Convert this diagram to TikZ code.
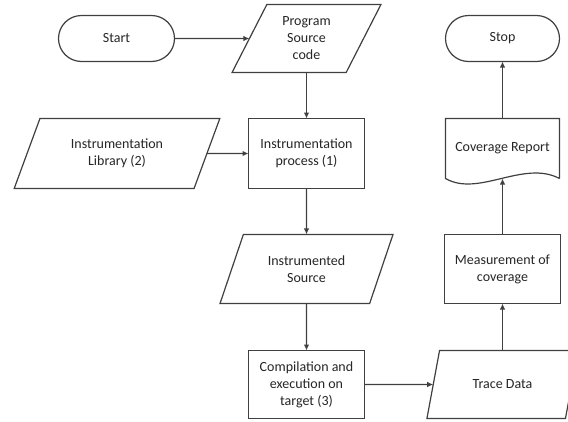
\documentclass[tikz,border=0pt]{standalone}
\usepackage{fontspec}
\setmainfont{Carlito}
\usetikzlibrary{shapes.geometric,arrows.meta}
\begin{document}
\begin{tikzpicture}[x=1pt,y=-1pt,
    line width=1.2pt,
    every node/.style={font=\fontsize{14}{17}\selectfont, text=black!85, align=center, inner sep=2pt, outer sep=0pt},
    termbox/.style={draw=black!75, rounded corners=23pt, minimum width=116pt, minimum height=46pt},
    iobox/.style={draw=black!75, trapezium, trapezium left angle=64, trapezium right angle=116, trapezium stretches=true, minimum height=68pt},
    procbox/.style={draw=black!75, rectangle, minimum width=116pt, minimum height=70pt},
    flow/.style={draw=black!75, -{Latex[length=6pt,width=5.5pt]}}]
    \useasboundingbox [fill=white] (0,0) rectangle (568,421);

    \node [termbox] (start) at (116.5,38.5) {Start};
    \node [iobox, minimum width=150pt] (src) at (306.5,38.5) {Program\\Source\\code};
    \node [iobox, minimum width=206pt, minimum height=70pt] (lib) at (117,153.5) {Instrumentation\\Library (2)};
    \node [procbox] (proc) at (306.5,153.5) {Instrumentation\\process (1)};
    \node [iobox, minimum width=173pt, minimum height=69pt] (inst) at (306.5,269) {Instrumented\\Source};
    \node [procbox, minimum height=68pt] (comp) at (306.5,384.5) {Compilation and\\execution on\\target (3)};
    \node [iobox, minimum width=152pt] (trace) at (502.5,384.5) {Trace Data};
    \node [procbox, minimum height=69pt] (meas) at (502.5,269) {Measurement of\\coverage};
    \node [minimum width=114pt, minimum height=60pt] (rep) at (502.5,148.5) {Coverage Report};
    \node [termbox, minimum width=114pt] (stop) at (502.5,38.5) {Stop};

    \draw [draw=black!75] (rep.south east) -- (rep.north east) -- (rep.north west) -- (rep.south west)
        .. controls +(33,19) and +(-36,-19) .. (rep.south east);

    \draw [flow] (start) -- (src);
    \draw [flow] (src) -- (proc);
    \draw [flow] (lib) -- (proc);
    \draw [flow] (proc) -- (inst);
    \draw [flow] (inst) -- (comp);
    \draw [flow] (comp) -- (trace);
    \draw [flow] (trace) -- (meas);
    \draw [flow] (meas) -- (rep.south);
    \draw [flow] (rep) -- (stop);
\end{tikzpicture}
\end{document}
